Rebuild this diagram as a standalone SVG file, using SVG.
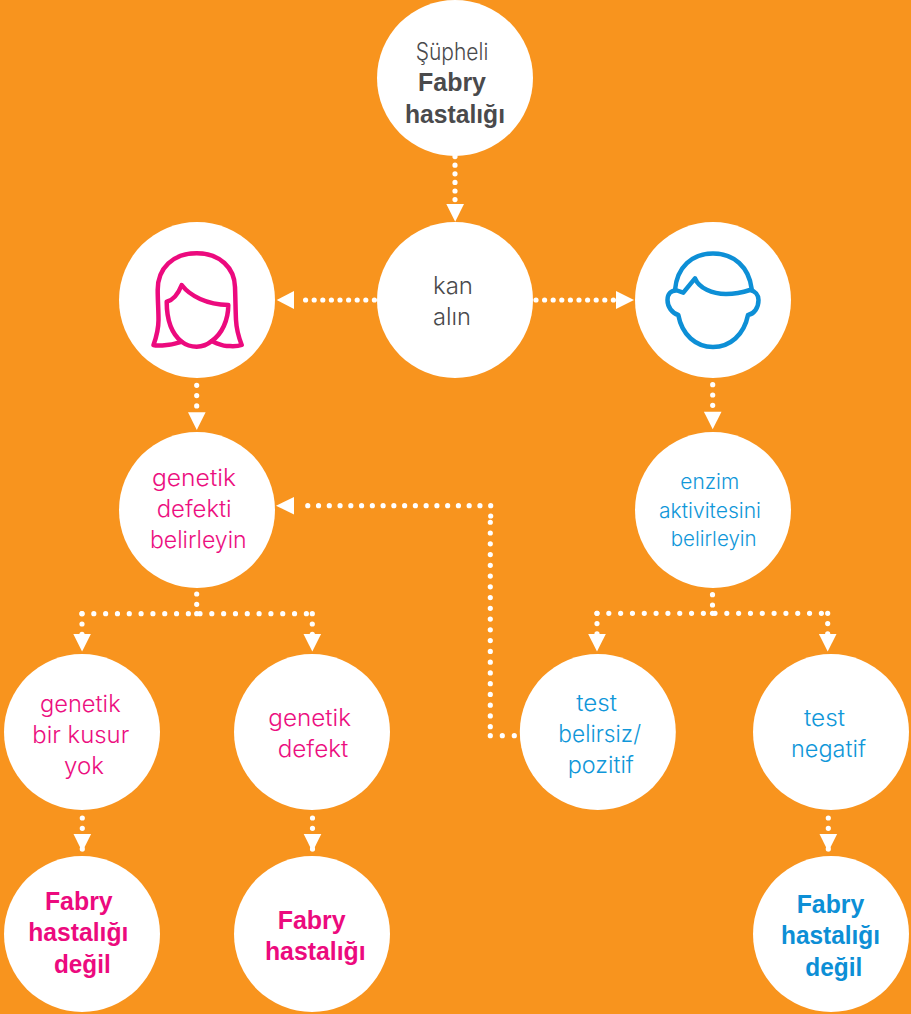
<svg xmlns="http://www.w3.org/2000/svg" width="911" height="1014" viewBox="0 0 911 1014">
<style>
.n{fill:#fff}
text{font-family:Inter,"Liberation Sans",sans-serif;text-anchor:middle;font-weight:300;font-size:23.5px}
.b{font-family:"Liberation Sans",Arial,sans-serif;font-weight:700;font-size:25px}
.sm{font-size:20.5px}
.g{fill:#4a4a4c}.p{fill:#ec0f80}.c{fill:#1097d9}
.bp{fill:#ec0a7e}.bc{fill:#0d8fd6}
.o,.s1,.s2,.s3,.s4{fill:none;stroke:#fff;stroke-width:5.2;stroke-linecap:round}
.s1{stroke-dasharray:0 8.6}
.s2{stroke-dasharray:0 10.3}
.s3{stroke-dasharray:0 11.82}
.s4{stroke-dasharray:0 10.76}
.a{fill:#fff}
.ico{fill:none;stroke-width:4.5;stroke-linejoin:round;stroke-linecap:round}
</style>
<rect width="911" height="1014" fill="#f8941e"/>
<g id="connectors">
<path class="s1" d="M455 156.6V200.5"/><path class="a" d="M446.3 204h17.7l-8.8 17.7z"/>
<path class="s1" d="M374.4 300H297"/><path class="a" d="M276.7 300L294 291v18z"/>
<path class="s1" d="M536 300H613.6"/><path class="a" d="M634 300L616 291v18z"/>
<path class="s2" d="M196.7 385.3V406.2"/><path class="a" d="M188 412.3h17.6l-8.8 17.7z"/>
<path class="s2" d="M712.7 384.7V405.6"/><path class="a" d="M703.9 411.7h17.6l-8.8 17.6z"/>
<path class="s2" d="M196.7 594V604.6"/>
<path class="s3" d="M82 613.7H188.6"/><path class="s3" d="M200 613.7H306.5"/>
<path class="s2" d="M82 613.7V635"/><path class="s2" d="M312.3 613.7V635"/>
<path class="o" d="M196.7 613.7h0"/>
<path class="a" d="M73.3 634h17.6l-8.8 17.4z"/><path class="a" d="M303.5 634h17.6l-8.8 17.4z"/>
<path class="s2" d="M712.5 594.7V605.3"/>
<path class="s3" d="M597 613.3H703.6"/><path class="s3" d="M715 613.3H821.5"/>
<path class="s2" d="M597 613.3V634.6"/><path class="s2" d="M827.7 613.3V634.6"/>
<path class="o" d="M712.5 613.3h0"/>
<path class="a" d="M588.2 634h17.6l-8.8 17.4z"/><path class="a" d="M818.9 634h17.6l-8.8 17.4z"/>
<path class="o" d="M514.3 735.7h0M502.3 735.7h0M490.3 735.7h0M490.7 516h0"/>
<path class="s4" d="M490.3 726.7V521.5"/>
<path class="s4" d="M490.7 505.7H297.2"/><path class="a" d="M276 505.7L294 497v17.4z"/>
<path class="s2" d="M82.3 818V849"/><path class="a" d="M73.5 834h17.6l-8.8 17.7z"/>
<path class="s2" d="M312.5 818V849"/><path class="a" d="M303.7 834h17.6l-8.8 17.7z"/>
<path class="s2" d="M828.3 818V849"/><path class="a" d="M819.5 834h17.6l-8.8 17.7z"/>
</g>
<g id="n1"><circle class="n" cx="455" cy="78" r="78"/><text class="g" x="452" y="60" textLength="72.6" lengthAdjust="spacingAndGlyphs">Şüpheli</text><text class="b g" x="452" y="90.7" textLength="68" lengthAdjust="spacingAndGlyphs">Fabry</text><text class="b g" x="455" y="122.6" textLength="100" lengthAdjust="spacingAndGlyphs">hastalığı</text></g>
<g id="n2"><circle class="n" cx="455" cy="300" r="78"/><text class="g" x="453" y="294" textLength="40" lengthAdjust="spacingAndGlyphs">kan</text><text class="g" x="452" y="325" textLength="38" lengthAdjust="spacingAndGlyphs">alın</text></g>
<g id="woman"><circle class="n" cx="197" cy="300" r="78"/>
<path class="ico" stroke="#ec0a7e" d="M153.5 345C156 338 158.5 330 158.5 320C158.5 310 157.7 300 157.7 290C157.7 268 173 253.3 196.7 253.3C220 253.3 234.5 268 235 287C235.5 300 235.5 310 236 320C236.5 330 239 338 241.7 345C236 347 231 346 226.7 346C221 345.5 216 343 211.7 341C207 345 202 346.7 196.7 346.7C191 346.7 186 345 181.7 341.7C177 343 172 345 166.7 345C162 345.5 157 346 153.5 345Z"/>
<path class="ico" stroke="#ec0a7e" d="M181.7 341.7C172 334 166.7 320 166.7 301.7C174 300 178.5 293 181.7 285C190 296 207 304.5 228.3 305C228.3 320 222 334 211.7 341"/></g>
<g id="man"><circle class="n" cx="713" cy="300" r="78"/>
<path class="ico" stroke="#0d8fd6" d="M675 290C677 267 692 253.5 713 253.5C734 253.5 749 267 751.7 289"/>
<path class="ico" stroke="#0d8fd6" d="M678.3 315C672 313 667.5 307 667.5 300C667.5 294 671 290 677 290.5L683.3 292.7L695 278.3C699 288 712 294 726 294C736 294 744 292 750 290C755 291 758.5 295 758.5 300C758.5 308 754 314 748 315C744 335 730 347 713 347C696 347 682 335 678.3 315Z"/></g>
<g id="n3"><circle class="n" cx="197" cy="510" r="78"/><text class="p" x="194" y="486" textLength="84" lengthAdjust="spacingAndGlyphs">genetik</text><text class="p" x="194.2" y="517" textLength="75" lengthAdjust="spacingAndGlyphs">defekti</text><text class="p" x="198.3" y="548" textLength="96.7" lengthAdjust="spacingAndGlyphs">belirleyin</text></g>
<g id="n4"><circle class="n" cx="713" cy="510" r="78"/><text class="c sm" x="709.8" y="489.3" textLength="59" lengthAdjust="spacingAndGlyphs">enzim</text><text class="c sm" x="710" y="518.3" textLength="102" lengthAdjust="spacingAndGlyphs">aktivitesini</text><text class="c sm" x="713.7" y="546" textLength="86" lengthAdjust="spacingAndGlyphs">belirleyin</text></g>
<g id="n5"><circle class="n" cx="82" cy="732" r="78"/><text class="p" x="80.3" y="712.3" textLength="80.7" lengthAdjust="spacingAndGlyphs">genetik</text><text class="p" x="80.8" y="742.7" textLength="97" lengthAdjust="spacingAndGlyphs">bir kusur</text><text class="p" x="84" y="774.3" textLength="40" lengthAdjust="spacingAndGlyphs">yok</text></g>
<g id="n6"><circle class="n" cx="312" cy="732" r="78"/><text class="p" x="309.7" y="726" textLength="82.7" lengthAdjust="spacingAndGlyphs">genetik</text><text class="p" x="313" y="757.3" textLength="70.6" lengthAdjust="spacingAndGlyphs">defekt</text></g>
<g id="n7"><circle class="n" cx="597.8" cy="732" r="78"/><text class="c" x="596.7" y="710.7" textLength="40.7" lengthAdjust="spacingAndGlyphs">test</text><text class="c" x="599.7" y="741.7" textLength="82.7" lengthAdjust="spacingAndGlyphs">belirsiz/</text><text class="c" x="600.8" y="772.7" textLength="66.3" lengthAdjust="spacingAndGlyphs">pozitif</text></g>
<g id="n8"><circle class="n" cx="831" cy="732" r="78"/><text class="c" x="824.5" y="725.7" textLength="41" lengthAdjust="spacingAndGlyphs">test</text><text class="c" x="828.5" y="757.3" textLength="75" lengthAdjust="spacingAndGlyphs">negatif</text></g>
<g id="n9"><circle class="n" cx="82" cy="934" r="78"/><text class="b bp" x="78.8" y="910" textLength="67.7" lengthAdjust="spacingAndGlyphs">Fabry</text><text class="b bp" x="78.3" y="941" textLength="100" lengthAdjust="spacingAndGlyphs">hastalığı</text><text class="b bp" x="82.3" y="973" textLength="56.7" lengthAdjust="spacingAndGlyphs">değil</text></g>
<g id="n10"><circle class="n" cx="312" cy="934" r="78"/><text class="b bp" x="311.7" y="928.7" textLength="68" lengthAdjust="spacingAndGlyphs">Fabry</text><text class="b bp" x="315.3" y="960" textLength="100.7" lengthAdjust="spacingAndGlyphs">hastalığı</text></g>
<g id="n11"><circle class="n" cx="831" cy="934" r="78"/><text class="b bc" x="830.5" y="913" textLength="67.6" lengthAdjust="spacingAndGlyphs">Fabry</text><text class="b bc" x="830.5" y="944.3" textLength="99" lengthAdjust="spacingAndGlyphs">hastalığı</text><text class="b bc" x="833.8" y="975.8" textLength="57" lengthAdjust="spacingAndGlyphs">değil</text></g>
</svg>
